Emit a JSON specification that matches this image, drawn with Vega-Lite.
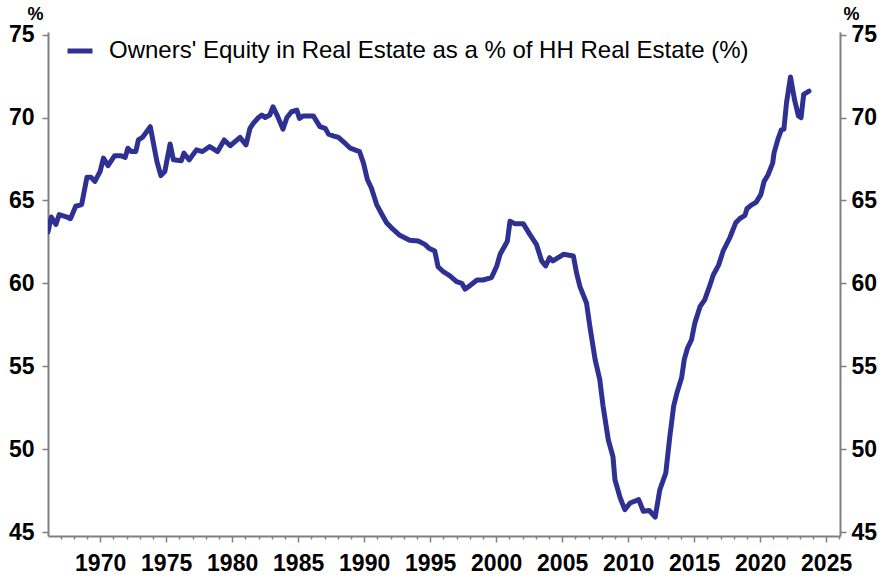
{
  "$schema": "https://vega.github.io/schema/vega-lite/v6.json",
  "width": 792,
  "height": 504,
  "autosize": "none",
  "padding": {"left": 48, "top": 32, "right": 44, "bottom": 40},
  "background": "white",
  "config": {"view": {"stroke": null}, "font": "Liberation Sans"},
  "data": {"values": [
    {"year": 1966.0, "value": 63.7}, {"year": 1966.05, "value": 63.1}, {"year": 1966.3, "value": 64.0}, {"year": 1966.65, "value": 63.55},
    {"year": 1966.9, "value": 64.15}, {"year": 1967.5, "value": 64.0}, {"year": 1967.75, "value": 63.9}, {"year": 1968.15, "value": 64.65},
    {"year": 1968.6, "value": 64.75}, {"year": 1969.0, "value": 66.4}, {"year": 1969.3, "value": 66.4}, {"year": 1969.6, "value": 66.15},
    {"year": 1970.0, "value": 66.75}, {"year": 1970.25, "value": 67.55}, {"year": 1970.6, "value": 67.1}, {"year": 1971.1, "value": 67.7},
    {"year": 1971.55, "value": 67.7}, {"year": 1971.9, "value": 67.6}, {"year": 1972.1, "value": 68.15}, {"year": 1972.35, "value": 67.95},
    {"year": 1972.7, "value": 67.95}, {"year": 1972.9, "value": 68.65}, {"year": 1973.2, "value": 68.8}, {"year": 1973.8, "value": 69.45},
    {"year": 1974.3, "value": 67.35}, {"year": 1974.6, "value": 66.5}, {"year": 1974.9, "value": 66.75}, {"year": 1975.3, "value": 68.4},
    {"year": 1975.55, "value": 67.45}, {"year": 1976.15, "value": 67.4}, {"year": 1976.35, "value": 67.85}, {"year": 1976.75, "value": 67.45},
    {"year": 1977.3, "value": 68.05}, {"year": 1977.75, "value": 67.95}, {"year": 1978.3, "value": 68.25}, {"year": 1978.9, "value": 67.95},
    {"year": 1979.4, "value": 68.65}, {"year": 1979.85, "value": 68.3}, {"year": 1980.6, "value": 68.8}, {"year": 1981.05, "value": 68.35},
    {"year": 1981.35, "value": 69.35}, {"year": 1981.6, "value": 69.65}, {"year": 1982.0, "value": 70.0}, {"year": 1982.25, "value": 70.15},
    {"year": 1982.5, "value": 70.0}, {"year": 1982.85, "value": 70.15}, {"year": 1983.1, "value": 70.65}, {"year": 1983.4, "value": 70.15},
    {"year": 1983.85, "value": 69.3}, {"year": 1984.15, "value": 70.0}, {"year": 1984.5, "value": 70.35}, {"year": 1984.9, "value": 70.45},
    {"year": 1985.1, "value": 69.95}, {"year": 1985.4, "value": 70.1}, {"year": 1986.15, "value": 70.1}, {"year": 1986.65, "value": 69.45},
    {"year": 1987.05, "value": 69.35}, {"year": 1987.3, "value": 69.0}, {"year": 1987.65, "value": 68.9}, {"year": 1988.05, "value": 68.8},
    {"year": 1988.55, "value": 68.45}, {"year": 1988.95, "value": 68.15}, {"year": 1989.3, "value": 68.05}, {"year": 1989.65, "value": 67.95},
    {"year": 1989.95, "value": 67.25}, {"year": 1990.25, "value": 66.25}, {"year": 1990.55, "value": 65.75}, {"year": 1990.95, "value": 64.75},
    {"year": 1991.35, "value": 64.15}, {"year": 1991.7, "value": 63.65}, {"year": 1992.2, "value": 63.25}, {"year": 1992.7, "value": 62.9},
    {"year": 1993.45, "value": 62.6}, {"year": 1994.1, "value": 62.55}, {"year": 1994.6, "value": 62.35}, {"year": 1994.95, "value": 62.1},
    {"year": 1995.35, "value": 61.95}, {"year": 1995.6, "value": 61.0}, {"year": 1996.0, "value": 60.7}, {"year": 1996.5, "value": 60.45},
    {"year": 1997.0, "value": 60.1}, {"year": 1997.4, "value": 60.0}, {"year": 1997.65, "value": 59.65}, {"year": 1998.0, "value": 59.85},
    {"year": 1998.55, "value": 60.2}, {"year": 1999.0, "value": 60.2}, {"year": 1999.65, "value": 60.35}, {"year": 2000.05, "value": 61.05},
    {"year": 2000.3, "value": 61.75}, {"year": 2000.65, "value": 62.25}, {"year": 2000.85, "value": 62.55}, {"year": 2001.05, "value": 63.75},
    {"year": 2001.4, "value": 63.6}, {"year": 2002.05, "value": 63.6}, {"year": 2002.55, "value": 62.95}, {"year": 2003.05, "value": 62.35},
    {"year": 2003.45, "value": 61.35}, {"year": 2003.75, "value": 61.05}, {"year": 2004.05, "value": 61.55}, {"year": 2004.3, "value": 61.35},
    {"year": 2005.1, "value": 61.75}, {"year": 2005.85, "value": 61.65}, {"year": 2006.1, "value": 60.6}, {"year": 2006.35, "value": 59.8},
    {"year": 2006.85, "value": 58.8}, {"year": 2007.1, "value": 57.4}, {"year": 2007.5, "value": 55.4}, {"year": 2007.85, "value": 54.2},
    {"year": 2008.1, "value": 52.6}, {"year": 2008.5, "value": 50.55}, {"year": 2008.85, "value": 49.55}, {"year": 2009.0, "value": 48.15},
    {"year": 2009.4, "value": 47.05}, {"year": 2009.75, "value": 46.35}, {"year": 2010.15, "value": 46.75}, {"year": 2010.8, "value": 46.95},
    {"year": 2011.15, "value": 46.25}, {"year": 2011.6, "value": 46.3}, {"year": 2012.05, "value": 45.9}, {"year": 2012.4, "value": 47.55},
    {"year": 2012.85, "value": 48.55}, {"year": 2013.15, "value": 50.7}, {"year": 2013.45, "value": 52.6}, {"year": 2013.7, "value": 53.4},
    {"year": 2014.05, "value": 54.3}, {"year": 2014.25, "value": 55.4}, {"year": 2014.5, "value": 56.1}, {"year": 2014.8, "value": 56.6},
    {"year": 2015.05, "value": 57.6}, {"year": 2015.45, "value": 58.6}, {"year": 2015.8, "value": 59.0}, {"year": 2016.2, "value": 59.9},
    {"year": 2016.45, "value": 60.5}, {"year": 2016.85, "value": 61.1}, {"year": 2017.2, "value": 61.95}, {"year": 2017.7, "value": 62.75},
    {"year": 2018.15, "value": 63.65}, {"year": 2018.45, "value": 63.9}, {"year": 2018.85, "value": 64.1}, {"year": 2019.0, "value": 64.5},
    {"year": 2019.3, "value": 64.7}, {"year": 2019.7, "value": 64.9}, {"year": 2020.05, "value": 65.35}, {"year": 2020.3, "value": 66.15},
    {"year": 2020.6, "value": 66.55}, {"year": 2020.95, "value": 67.25}, {"year": 2021.05, "value": 67.85}, {"year": 2021.35, "value": 68.7},
    {"year": 2021.6, "value": 69.25}, {"year": 2021.8, "value": 69.3}, {"year": 2022.0, "value": 70.9}, {"year": 2022.3, "value": 72.45},
    {"year": 2022.6, "value": 71.1}, {"year": 2022.9, "value": 70.1}, {"year": 2023.1, "value": 70.0}, {"year": 2023.3, "value": 71.4},
    {"year": 2023.7, "value": 71.6}
  ]},
  "layer": [
    {
      "mark": {"type": "line", "strokeWidth": 5, "strokeJoin": "round", "strokeCap": "round", "clip": true},
      "encoding": {
        "x": {
          "field": "year", "type": "quantitative",
          "scale": {"domain": [1966.05, 2026.05], "nice": false, "zero": false},
          "axis": {
            "orient": "bottom",
            "values": [1970, 1975, 1980, 1985, 1990, 1995, 2000, 2005, 2010, 2015, 2020, 2025],
            "format": "d", "title": null, "grid": false,
            "domainColor": "#808080", "domainWidth": 2,
            "tickColor": "#808080", "tickWidth": 1.5, "tickSize": 6,
            "labelFont": "Liberation Sans", "labelFontSize": 23, "labelFontWeight": "bold",
            "labelColor": "#000000", "labelPadding": 10, "labelOverlap": false, "labelFlush": false
          }
        },
        "y": {
          "field": "value", "type": "quantitative",
          "scale": {"domain": [44.76, 75.16], "nice": false, "zero": false},
          "axis": {
            "orient": "left", "values": [45, 50, 55, 60, 65, 70, 75], "grid": false,
            "title": "%", "titleAngle": 0, "titleX": -13, "titleY": -18, "titleAlign": "center", "titleBaseline": "middle",
            "titleFont": "Liberation Sans", "titleFontSize": 18, "titleFontWeight": "bold", "titleColor": "#000000",
            "domainColor": "#808080", "domainWidth": 2,
            "tickColor": "#808080", "tickWidth": 1.5, "tickSize": 6,
            "labelFont": "Liberation Sans", "labelFontSize": 23, "labelFontWeight": "bold",
            "labelColor": "#000000", "labelPadding": 8, "labelOverlap": false, "labelFlush": false
          }
        },
        "color": {
          "datum": "Owners' Equity in Real Estate as a % of HH Real Estate (%)",
          "scale": {"range": ["#2e3192"]},
          "legend": {
            "orient": "none", "legendX": 17, "legendY": 4, "title": null, "padding": 0,
            "symbolType": "stroke", "symbolStrokeWidth": 5, "symbolSize": 625,
            "labelFont": "Liberation Sans", "labelFontSize": 24, "labelColor": "#000000",
            "labelOffset": 14, "labelLimit": 0
          }
        }
      }
    },
    {
      "mark": {"type": "line", "opacity": 0},
      "encoding": {
        "x": {
          "field": "year", "type": "quantitative",
          "axis": {
            "orient": "bottom",
            "values": [1966, 1967, 1968, 1969, 1971, 1972, 1973, 1974, 1976, 1977, 1978, 1979, 1981, 1982, 1983, 1984, 1986, 1987, 1988, 1989, 1991, 1992, 1993, 1994, 1996, 1997, 1998, 1999, 2001, 2002, 2003, 2004, 2006, 2007, 2008, 2009, 2011, 2012, 2013, 2014, 2016, 2017, 2018, 2019, 2021, 2022, 2023, 2024, 2026],
            "labels": false, "domain": false, "grid": false, "title": null,
            "tickColor": "#808080", "tickWidth": 1.5, "tickSize": 3
          }
        },
        "y": {
          "field": "value", "type": "quantitative",
          "axis": {
            "orient": "right", "values": [45, 50, 55, 60, 65, 70, 75], "grid": false,
            "title": "%", "titleAngle": 0, "titleX": 11, "titleY": -18, "titleAlign": "center", "titleBaseline": "middle",
            "titleFont": "Liberation Sans", "titleFontSize": 18, "titleFontWeight": "bold", "titleColor": "#000000",
            "domainColor": "#808080", "domainWidth": 2,
            "tickColor": "#808080", "tickWidth": 1.5, "tickSize": 6,
            "labelFont": "Liberation Sans", "labelFontSize": 23, "labelFontWeight": "bold",
            "labelColor": "#000000", "labelPadding": 5, "labelOverlap": false, "labelFlush": false
          }
        }
      }
    }
  ],
  "resolve": {"axis": {"x": "independent", "y": "independent"}}
}
